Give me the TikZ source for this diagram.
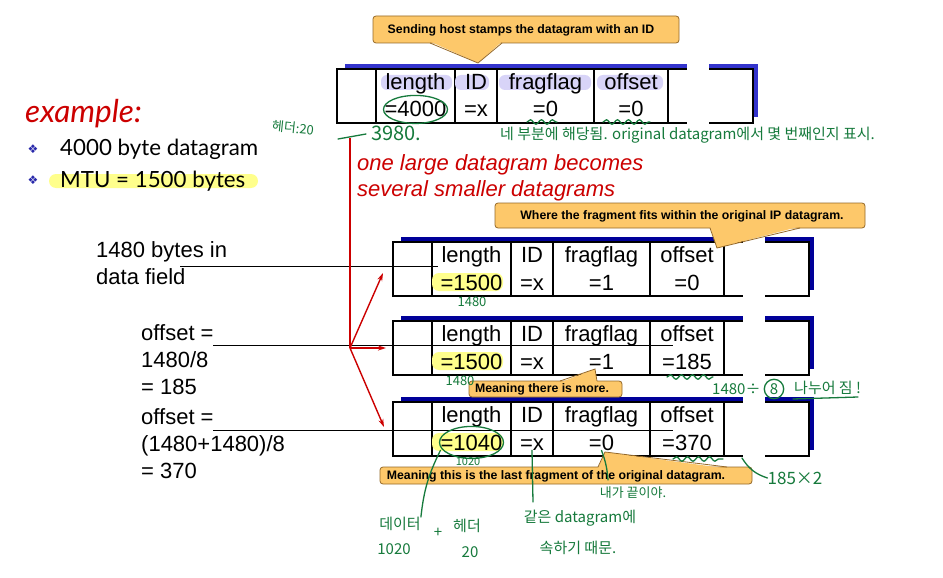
\documentclass[tikz,border=0pt]{standalone}
\usepackage{fontspec}
\setmainfont{Liberation Sans}
\newfontfamily\gillfont{Lato}
\newfontfamily\hanfont{Noto Sans CJK KR}
\newfontfamily\symfont{DejaVu Sans}
\usepackage{tikz}
\usetikzlibrary{arrows.meta,decorations.pathmorphing}
\usepackage{xcolor}

\definecolor{slidered}{RGB}{204,0,0}
\definecolor{shadowtop}{RGB}{51,51,204}
\definecolor{shadownavy}{RGB}{0,0,153}
\definecolor{calloutfill}{RGB}{253,200,106}
\definecolor{calloutdraw}{RGB}{150,105,40}
\definecolor{hilite}{RGB}{255,255,140}
\definecolor{lavender}{RGB}{216,212,248}
\definecolor{handgreen}{RGB}{22,122,60}
\definecolor{bulletblue}{RGB}{40,40,170}

\tikzset{
  cellline/.style={line width=1.5pt, black},
  field/.style={font=\fontsize{22}{26}\selectfont, inner sep=0pt, anchor=base},
  sidetext/.style={font=\fontsize{22}{27}\selectfont, inner sep=0pt, anchor=north west, align=left},
  callout/.style={fill=calloutfill, draw=calloutdraw, line width=0.8pt, rounded corners=3pt},
  pointer/.style={calloutdraw, line width=0.8pt},
  callfont/.style={font=\bfseries\fontsize{12.3}{14}\selectfont, inner sep=0pt},
  note/.style={handgreen, font=\hanfont\fontsize{15}{18}\selectfont, inner sep=0pt},
  pen/.style={handgreen, line width=1.3pt, line cap=round},
  wave/.style={pen, decorate, decoration={snake, amplitude=2.2pt, segment length=11pt}},
  redline/.style={slidered, line width=1.4pt},
}

% box of one datagram: x, y of top left corner, shadow colour
\newcommand{\dgbox}[3]{%
  \fill[#3] (#1+8,#2-5) rectangle (#1+421,#2+48);
  \filldraw[cellline, fill=white] (#1,#2) rectangle (#1+416,#2+54);
  \foreach \d in {39,118,160,257,331}
    \draw[cellline] (#1+\d,#2) -- (#1+\d,#2+54);
  \fill[white] (#1+350,#2-7) rectangle (#1+372,#2+1.5);
  \fill[white] (#1+350,#2+52.5) rectangle (#1+372,#2+57);
}
% header fields: name, x, y, length, fragflag, offset
\newcommand{\dgfields}[6]{%
  \node[field] (#1-len) at (#2+78.5,#3+20) {length};
  \node[field] (#1-id) at (#2+139,#3+20) {ID};
  \node[field] (#1-flag) at (#2+208.5,#3+20) {fragflag};
  \node[field] (#1-off) at (#2+294,#3+20) {offset};
  \node[field] (#1-lenv) at (#2+78.5,#3+48) {=#4};
  \node[field] (#1-idv) at (#2+139,#3+48) {=x};
  \node[field] (#1-flagv) at (#2+208.5,#3+48) {=#5};
  \node[field] (#1-offv) at (#2+294,#3+48) {=#6};
}

\begin{document}
\begin{tikzpicture}[x=1pt, y=-1pt, >={Stealth[length=8pt,width=5pt]}]
    \useasboundingbox (0,0) rectangle (943,578);
    \fill[white] (0,0) rectangle (943,578);

    % Datagram boxes
    \dgbox{337}{69}{shadowtop}
    \dgbox{393}{242}{shadownavy}
    \dgbox{393}{321}{shadownavy}
    \dgbox{393}{402}{shadownavy}

    % Highlights behind the fields
    \foreach \a/\b in {381/452, 455/489, 499/591, 597/663}
        \fill[lavender, rounded corners=6pt] (\a,75) rectangle (\b,90);
    \foreach \y in {273, 352, 433}
        \fill[hilite, rounded corners=7pt] (432,\y) rectangle (503,\y+18);

    % Header fields
    \dgfields{orig}{337}{69}{4000}{0}{0}
    \dgfields{fa}{393}{242}{1500}{1}{0}
    \dgfields{fb}{393}{321}{1500}{1}{185}
    \dgfields{fc}{393}{402}{1040}{0}{370}

    % Left column
    \node[anchor=base west, inner sep=0pt, slidered, font=\gillfont\itshape\fontsize{31.5}{36}\selectfont] (example) at (25,122) {example:};
    \node[bulletblue, font=\symfont\fontsize{12}{14}\selectfont, inner sep=0pt] (bul1) at (33,149) {❖};
    \node[bulletblue, font=\symfont\fontsize{12}{14}\selectfont, inner sep=0pt] (bul2) at (33,180) {❖};
    \node[anchor=base west, inner sep=0pt, font=\gillfont\fontsize{22.3}{26}\selectfont] (total) at (60,155) {4000 byte datagram};
    \fill[hilite, rounded corners=7pt] (49,174) rectangle (258,188);
    \node[anchor=base west, inner sep=0pt, font=\gillfont\fontsize{22.3}{26}\selectfont] (mtu) at (60,187) {MTU = 1500 bytes};

    \node[sidetext] (datafield) at (96,241) {1480 bytes in\\data field};
    \node[sidetext] (offb) at (141,324) {offset =\\1480/8\\= 185};
    \node[sidetext] (offc) at (141,408) {offset =\\(1480+1480)/8\\= 370};

    \node[sidetext, slidered, font=\itshape\fontsize{22}{26.5}\selectfont] (becomes) at (357,154) {one large datagram becomes\\several smaller datagrams};

    % Pointer lines from the left texts
    \coordinate (la) at (180,266);  \coordinate (lae) at (438,266);
    \coordinate (lb) at (213,345);  \coordinate (lbe) at (673,345);
    \coordinate (lc) at (213,430);  \coordinate (lce) at (673,430);
    \draw[line width=0.9pt] (la) -- (lae);
    \draw[line width=0.9pt] (lb) -- (lbe);
    \draw[line width=0.9pt] (lc) -- (lce);

    % Red split arrows
    \coordinate (redtop) at (350,138);
    \coordinate (split) at (350,348);
    \coordinate (fain) at (383,273);
    \coordinate (fbin) at (386,348);
    \coordinate (fcin) at (384,427);
    \draw[redline] (redtop) -- (split);
    \draw[redline, ->] (split) -- (fain);
    \draw[redline, ->] (split) -- (fbin);
    \draw[redline, ->] (split) -- (fcin);

    % Callouts
    \filldraw[callout] (373,16) rectangle (679,43);
    \fill[calloutfill] (430,41.5) -- (478,63) -- (502,41.5) -- cycle;
    \draw[pointer] (430,43) -- (478,63) -- (502,43);
    \node[callfont] (callid) at (521,30) {Sending host stamps the datagram with an ID};

    \filldraw[callout] (495,203) rectangle (865,228);
    \fill[calloutfill] (710,226.5) -- (717,248) -- (800,226.5) -- cycle;
    \draw[pointer] (710,228) -- (717,248) -- (800,228);
    \node[callfont] (callfit) at (682,216) {Where the fragment fits within the original IP datagram.};

    \filldraw[callout] (469,381) rectangle (622,397);
    \fill[calloutfill] (560,382.5) -- (595,369) -- (597,382.5) -- cycle;
    \draw[pointer] (560,381) -- (595,369) -- (597,381);
    \node[callfont] (callmore) at (542,389.5) {Meaning there is more.};

    \filldraw[callout] (380,467) rectangle (752,484);
    \fill[calloutfill] (598,468.5) -- (605,452) -- (727,468.5) -- cycle;
    \draw[pointer] (598,467) -- (605,452) -- (727,467);
    \node[callfont] (calllast) at (556,476) {Meaning this is the last fragment of the original datagram.};

    % Handwritten notes
    \node[note, font=\hanfont\fontsize{13}{15}\selectfont, rotate=-6] (hdr) at (293,128) {헤더:20};
    \coordinate (dashs) at (338,139);
    \coordinate (dashe) at (366,134);
    \draw[pen] (dashs) -- (dashe);
    \node[note, font=\hanfont\fontsize{20}{22}\selectfont] (n3980) at (396,133) {3980.};
    \node[note, anchor=west] (nfield) at (500,135) {네 부분에 해당됨. original datagram에서 몇 번째인지 표시.};
    \draw[pen] (orig-lenv) ellipse [x radius=32, y radius=14];
    \draw[wave] (527,122) -- (557,122);
    \draw[wave] (603,122) -- (650,122);

    \node[note, font=\hanfont\fontsize{13}{15}\selectfont] (na) at (472,302) {1480};
    \node[note, font=\hanfont\fontsize{13}{15}\selectfont] (nb) at (460,381) {1480};
    \draw[wave] (667,377) -- (713,377);
    \node[note, anchor=west] (ndiv) at (712,389) {1480÷};
    \node[note, draw=handgreen, line width=1.3pt, circle, inner sep=2pt] (neight) at (774,389) {8};
    \node[note, anchor=west] (nmod) at (794,388) {나누어 짐 !};
    \draw[pen] (793,399) -- (858,397);

    \draw[pen] (fc-lenv) ellipse [x radius=32, y radius=16];
    \node[note, font=\hanfont\fontsize{11}{13}\selectfont] (nc) at (468,462) {1020};
    \node[note] (ndata) at (400,524) {데이터};
    \node[note] (ndatav) at (394,549) {1020};
    \node[note] (nplus) at (438,533) {+};
    \node[note] (nhdr) at (467,526) {헤더};
    \node[note] (nhdrv) at (470,552) {20};
    \draw[pen] (ndata.north east) to[bend left=10] (fc-lenv.south west);

    \draw[pen] (fc-idv.south) -- (533,502);
    \node[note] (nsame) at (580,518) {같은 datagram에};
    \node[note] (nsamev) at (578,548) {속하기 때문.};

    \draw[pen] (fc-flagv.south) to[bend left=8] (608,480);
    \node[note, font=\hanfont\fontsize{13}{15}\selectfont] (nlast) at (633,493) {내가 끝이야.};

    \draw[wave] (673,459) -- (723,459);
    \node[note, font=\hanfont\fontsize{17}{19}\selectfont] (ntwice) at (795,478) {185×2};
    \draw[pen] (742,458) to[bend right=20] (ntwice.west);
\end{tikzpicture}
\end{document}
